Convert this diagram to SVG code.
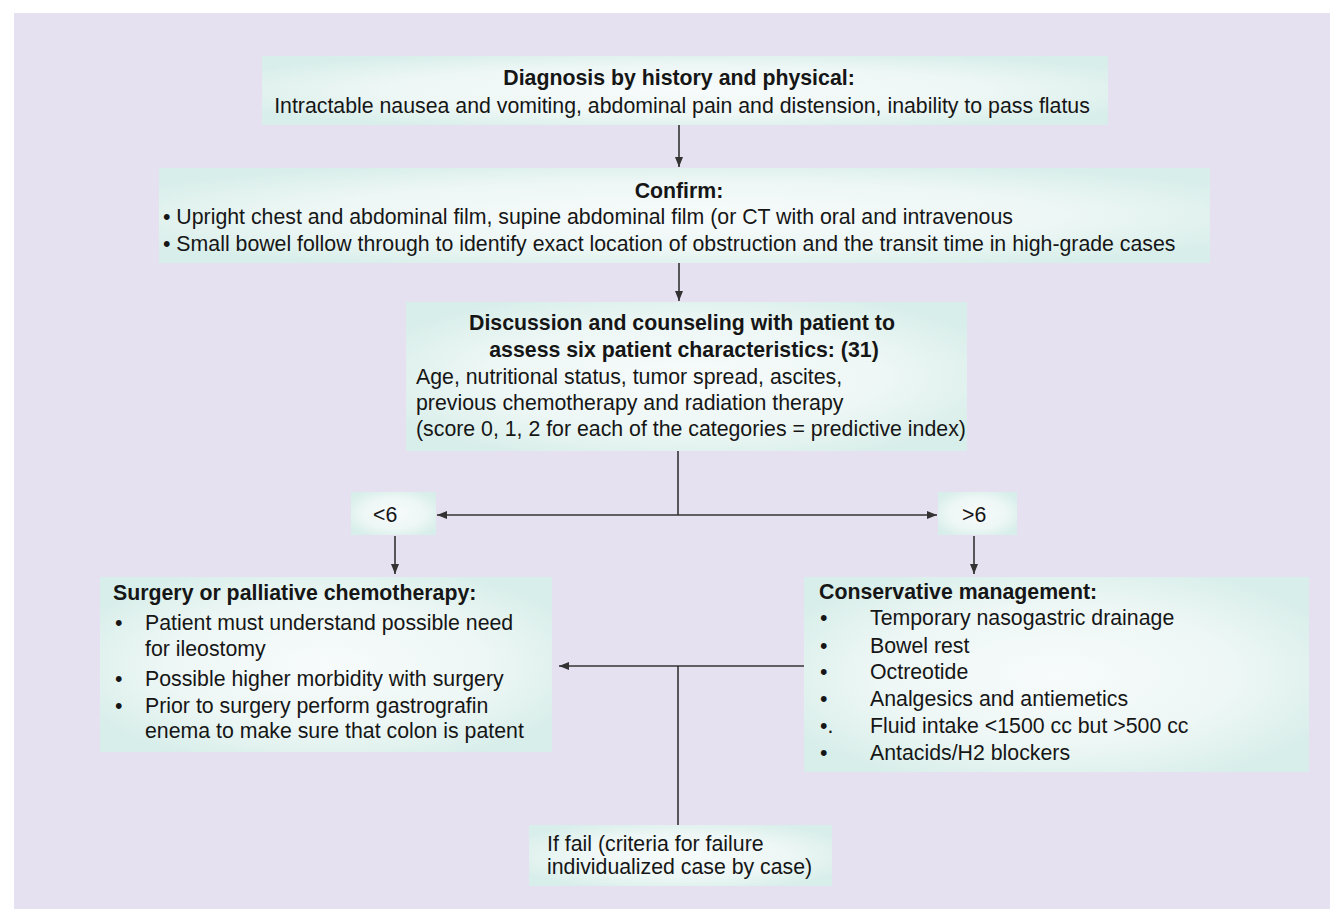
<svg xmlns="http://www.w3.org/2000/svg" width="1330" height="909" viewBox="0 0 1330 909">
<style>
text{font-family:"Liberation Sans",Arial,Helvetica,sans-serif;font-size:21.3px;fill:#161616}
.b{font-weight:bold}
.m{text-anchor:middle}
.box{fill:url(#g)}
.ln{stroke:#333;stroke-width:1.6;fill:none}
.ar{marker-end:url(#ah)}
</style>
<defs>
<radialGradient id="g" cx="0.5" cy="0.5" r="0.6">
<stop offset="0" stop-color="#f7fbfb"/>
<stop offset="0.6" stop-color="#edf7f5"/>
<stop offset="1" stop-color="#d8eeea"/>
</radialGradient>
<marker id="ah" markerUnits="userSpaceOnUse" markerWidth="10" markerHeight="8" refX="10" refY="4" orient="auto">
<path d="M0,0 L10,4 L0,8 Z" fill="#333"/>
</marker>
</defs>
<rect x="14" y="13" width="1316" height="896" fill="#e6e1f0"/>
<g id="connectors">
<line class="ln ar" x1="679" y1="125" x2="679" y2="167"/>
<line class="ln ar" x1="679" y1="263" x2="679" y2="301"/>
<line class="ln" x1="678" y1="451" x2="678" y2="515"/>
<line class="ln ar" x1="678" y1="515" x2="437" y2="515"/>
<line class="ln ar" x1="678" y1="515" x2="937" y2="515"/>
<line class="ln ar" x1="395" y1="536" x2="395" y2="574"/>
<line class="ln ar" x1="974" y1="536" x2="974" y2="574"/>
<line class="ln ar" x1="804" y1="666" x2="559" y2="666"/>
<line class="ln" x1="678" y1="666" x2="678" y2="825"/>
</g>
<g id="diagnosis">
<rect class="box" x="262" y="56" width="846" height="69"/>
<text class="b m" x="679" y="85">Diagnosis by history and physical:</text>
<text class="m" x="682" y="113">Intractable nausea and vomiting, abdominal pain and distension, inability to pass flatus</text>
</g>
<g id="confirm">
<rect class="box" x="159" y="168" width="1051" height="95"/>
<text class="b m" x="679" y="198">Confirm:</text>
<text x="163" y="224">• Upright chest and abdominal film, supine abdominal film (or CT with oral and intravenous</text>
<text x="163" y="251">• Small bowel follow through to identify exact location of obstruction and the transit time in high-grade cases</text>
</g>
<g id="discussion">
<rect class="box" x="406" y="302" width="561" height="149"/>
<text class="b m" x="682" y="330">Discussion and counseling with patient to</text>
<text class="b m" x="684" y="357">assess six patient characteristics: (31)</text>
<text x="416" y="384">Age, nutritional status, tumor spread, ascites,</text>
<text x="416" y="410">previous chemotherapy and radiation therapy</text>
<text x="416" y="436">(score 0, 1, 2 for each of the categories = predictive index)</text>
</g>
<g id="lt6">
<rect class="box" x="351" y="492" width="85" height="43"/>
<text x="373" y="522">&lt;6</text>
</g>
<g id="gt6">
<rect class="box" x="938" y="492" width="79" height="43"/>
<text x="962" y="522">&gt;6</text>
</g>
<g id="surgery">
<rect class="box" x="100" y="577" width="452" height="175"/>
<text class="b" x="113" y="600">Surgery or palliative chemotherapy:</text>
<text x="115" y="630">•</text>
<text x="145" y="630">Patient must understand possible need</text>
<text x="145" y="656">for ileostomy</text>
<text x="115" y="686">•</text>
<text x="145" y="686">Possible higher morbidity with surgery</text>
<text x="115" y="713">•</text>
<text x="145" y="713">Prior to surgery perform gastrografin</text>
<text x="145" y="738">enema to make sure that colon is patent</text>
</g>
<g id="conservative">
<rect class="box" x="804" y="577" width="505" height="195"/>
<text class="b" x="819" y="599">Conservative management:</text>
<text x="820" y="625">•</text>
<text x="870" y="625">Temporary nasogastric drainage</text>
<text x="820" y="653">•</text>
<text x="870" y="653">Bowel rest</text>
<text x="820" y="679">•</text>
<text x="870" y="679">Octreotide</text>
<text x="820" y="706">•</text>
<text x="870" y="706">Analgesics and antiemetics</text>
<text x="820" y="733">•.</text>
<text x="870" y="733">Fluid intake &lt;1500 cc but &gt;500 cc</text>
<text x="820" y="760">•</text>
<text x="870" y="760">Antacids/H2 blockers</text>
</g>
<g id="fail">
<rect class="box" x="529" y="825" width="303" height="61"/>
<text x="547" y="851">If fail (criteria for failure</text>
<text x="547" y="874">individualized case by case)</text>
</g>
</svg>
